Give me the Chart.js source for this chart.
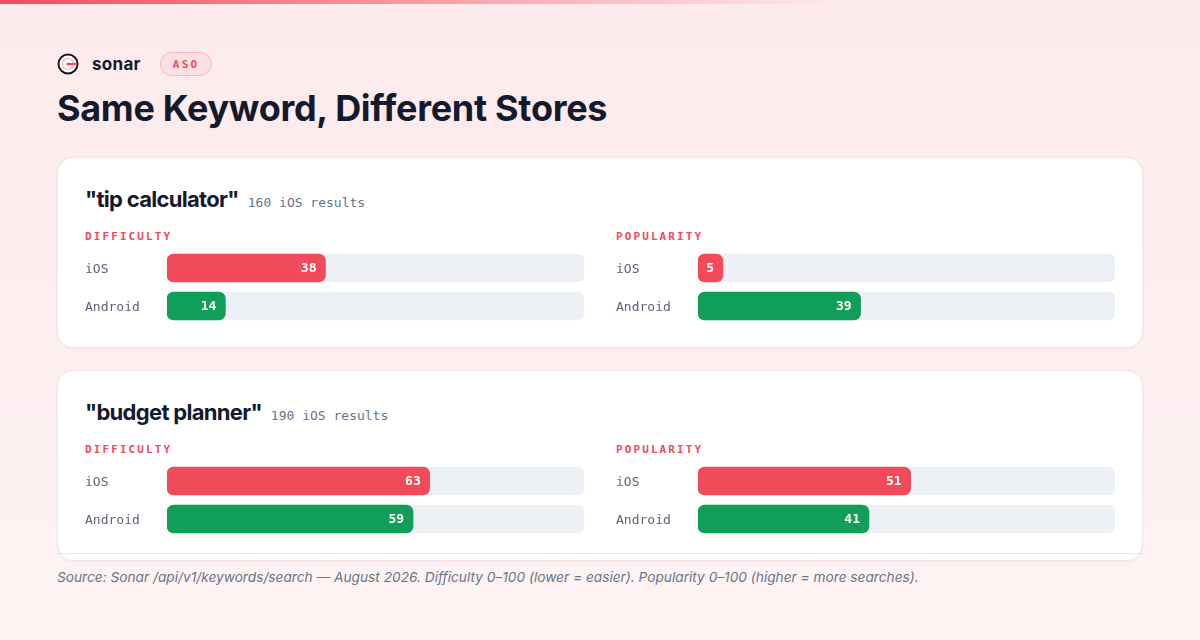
<!DOCTYPE html>
<html>
<head>
<meta charset="utf-8">
<script src="https://cdn.jsdelivr.net/npm/chart.js@4"></script>
<style>
  * { box-sizing: border-box; margin: 0; padding: 0; }
  body {
    width: 1200px; height: 640px; overflow: hidden; position: relative;
    background: linear-gradient(180deg, #fdeaec 0%, #fef3f4 100%);
    font-family: Inter, "Noto Sans", sans-serif; color: #141a2e;
  }
  .topbar { position: absolute; left: 0; top: 0; width: 1200px; height: 4px;
    background: linear-gradient(90deg, #f04c5c 0%, rgba(240,76,92,0.35) 45%, rgba(240,76,92,0) 70%); }
  .brand { position: absolute; left: 57px; top: 52px; height: 24px; display: flex; align-items: center; }
  .logo { width: 22px; height: 22px; }
  .brand-name { margin-left: 13px; font-weight: 700; font-size: 17px; color: #161b2c; letter-spacing: 0.3px; }
  .badge { margin-left: 19px; height: 24px; padding: 0 12px; border-radius: 12px;
    border: 1px solid #f8b9c0; background: #fde0e4; color: #ef4a5a;
    font-family: "DejaVu Sans Mono", monospace; font-weight: 700; font-size: 11px; letter-spacing: 2.2px;
    display: flex; align-items: center; }
  h1 { position: absolute; left: 57px; top: 85px; font-size: 36px; font-weight: 700; letter-spacing: -0.3px; color: #141a2e; line-height: 46px; }
  .card { position: absolute; left: 57px; width: 1086px; height: 191px; background: #fff;
    border: 1px solid #f1e3e5; border-radius: 16px; box-shadow: 0 1px 3px rgba(20,20,40,0.04); }
  .card-title { position: absolute; left: 27px; top: 28px; display: flex; align-items: baseline; white-space: nowrap; }
  .kw { font-size: 22px; font-weight: 700; letter-spacing: -0.7px; color: #141a2e; }
  .count { margin-left: 9px; font-family: "DejaVu Sans Mono", monospace; font-size: 13px; color: #68738a; }
  .metric { position: absolute; top: 72px; font-family: "DejaVu Sans Mono", monospace; font-weight: 700;
    font-size: 11px; letter-spacing: 2.1px; color: #ef4a5a; }
  .panel { position: absolute; top: 91px; width: 499px; height: 76px; }
  .divider { position: absolute; left: 57px; top: 553px; width: 1086px; height: 1px; background: #ebe7e9; }
  .source { position: absolute; left: 57px; top: 569px; font-size: 13.7px; font-style: italic; color: #6a7388; }
</style>
</head>
<body>
<div class="topbar"></div>
<div class="brand">
  <svg class="logo" viewBox="0 0 22 22">
    <circle cx="11" cy="11" r="9.5" fill="#fff" stroke="#161b2c" stroke-width="2"/>
    <circle cx="11" cy="11" r="5.5" fill="none" stroke="#f6a5ae" stroke-width="1.2"/>
    <line x1="11" y1="11" x2="19" y2="11" stroke="#ef4a5a" stroke-width="2" stroke-linecap="round"/>
    <circle cx="11" cy="11" r="1.6" fill="#ef4a5a"/>
  </svg>
  <span class="brand-name">sonar</span>
  <span class="badge">ASO</span>
</div>
<h1>Same Keyword, Different Stores</h1>
<div id="cards"></div>
<div class="divider"></div>
<div class="source">Source: Sonar /api/v1/keywords/search — August 2026. Difficulty 0–100 (lower = easier). Popularity 0–100 (higher = more searches).</div>

<script>
// Keyword data
const keywords = ['tip calculator', 'budget planner'];
const iosResults = [160, 190];
const platforms = ['iOS', 'Android'];
const metrics = ['DIFFICULTY', 'POPULARITY'];

const difficultyIOS = [38, 63];
const difficultyAndroid = [14, 59];
const popularityIOS = [5, 51];
const popularityAndroid = [39, 41];

const RED = '#f14b5b';
const GREEN = '#119e58';
const TRACK = '#edf0f5';
const MONO = '"DejaVu Sans Mono", monospace';

// Draws the value at the end of each coloured bar
const valueLabels = {
    id: 'valueLabels',
    afterDatasetsDraw(chart) {
        const ctx = chart.ctx;
        const meta = chart.getDatasetMeta(1);
        const values = chart.data.datasets[1].data;
        ctx.save();
        ctx.font = 'bold 13px ' + MONO;
        ctx.fillStyle = '#ffffff';
        ctx.textAlign = 'right';
        ctx.textBaseline = 'middle';
        meta.data.forEach((bar, i) => {
            ctx.fillText(String(values[i]), bar.x - 9, bar.y + 1);
        });
        ctx.restore();
    }
};

function makePanel(canvas, values) {
    new Chart(canvas.getContext('2d'), {
        type: 'bar',
        data: {
            labels: platforms,
            datasets: [
                {
                    data: platforms.map(() => 100),
                    backgroundColor: TRACK,
                    borderRadius: 7,
                    borderSkipped: false,
                    barThickness: 28,
                    order: 2
                },
                {
                    data: values,
                    backgroundColor: [RED, GREEN],
                    borderRadius: 7,
                    borderSkipped: false,
                    barThickness: 28,
                    minBarLength: 25,
                    order: 1
                }
            ]
        },
        options: {
            indexAxis: 'y',
            responsive: false,
            animation: false,
            events: [],
            layout: { padding: 0 },
            datasets: { bar: { grouped: false } },
            scales: {
                x: { display: false, min: 0, max: 100 },
                y: {
                    grid: { display: false },
                    border: { display: false },
                    afterFit(axis) {
                        axis.width = 82;
                        axis.paddingTop = 0;
                        axis.paddingBottom = 0;
                    },
                    ticks: {
                        crossAlign: 'far',
                        padding: 0,
                        labelOffset: 2,
                        color: '#5b6478',
                        font: { family: MONO, size: 13 }
                    }
                }
            },
            plugins: { legend: { display: false }, tooltip: { enabled: false } }
        },
        plugins: [valueLabels]
    });
}

const cardsEl = document.getElementById('cards');
keywords.forEach((kw, k) => {
    const card = document.createElement('div');
    card.className = 'card';
    card.style.top = (157 + k * 213) + 'px';
    card.innerHTML =
        '<div class="card-title"><span class="kw">"' + kw + '"</span>' +
        '<span class="count">' + iosResults[k] + ' iOS results</span></div>' +
        '<div class="metric" style="left:27px">' + metrics[0] + '</div>' +
        '<div class="metric" style="left:558px">' + metrics[1] + '</div>';
    const left = document.createElement('canvas');
    left.className = 'panel'; left.width = 499; left.height = 76; left.style.left = '27px';
    const right = document.createElement('canvas');
    right.className = 'panel'; right.width = 499; right.height = 76; right.style.left = '558px';
    card.appendChild(left);
    card.appendChild(right);
    cardsEl.appendChild(card);
    makePanel(left, [difficultyIOS[k], difficultyAndroid[k]]);
    makePanel(right, [popularityIOS[k], popularityAndroid[k]]);
});
</script>
</body>
</html>
